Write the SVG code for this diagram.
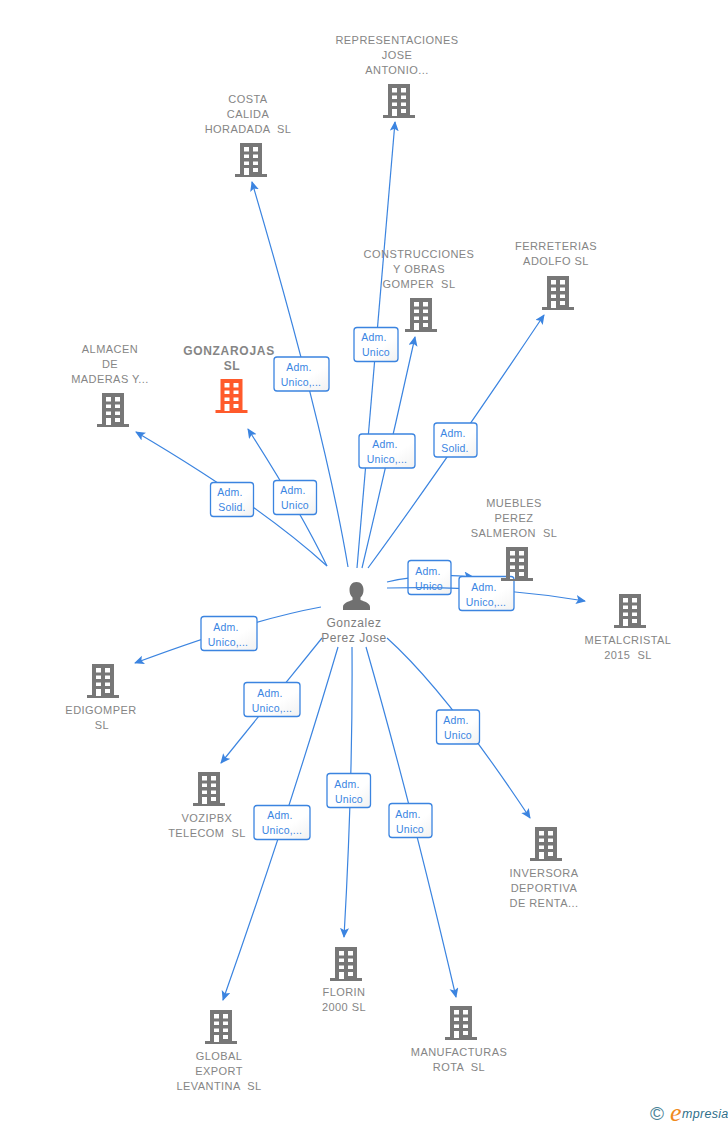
<svg xmlns="http://www.w3.org/2000/svg" width="728" height="1125" viewBox="0 0 728 1125">
<style>
text{font-family:"Liberation Sans",Arial,sans-serif;white-space:pre}
.n{font-size:11px;fill:#858585;text-anchor:middle;letter-spacing:.45px}
.b{font-size:12px;font-weight:bold;fill:#858585;text-anchor:middle;letter-spacing:.7px}
.p{font-size:12px;fill:#7d7d7d;text-anchor:middle;letter-spacing:.55px}
.l{font-size:10.500px;fill:#3a85e2;text-anchor:middle;letter-spacing:.2px}
.c{fill:none;stroke:#3b84e0;stroke-width:1.2}
.a{fill:#3b84e0;stroke:none}
.r{fill:url(#g);stroke:#3b84e0;stroke-width:1.3}
</style>
<defs>
<linearGradient id="g" x1="0" y1="0" x2="1" y2="1"><stop offset="0" stop-color="#fff"/><stop offset=".6" stop-color="#fff"/><stop offset="1" stop-color="#f1f1f1"/></linearGradient>
<marker id="m" markerWidth="12" markerHeight="10" refX="9" refY="4.500" orient="auto" markerUnits="userSpaceOnUse"><path class="a" d="M0 0L10 4.500L0 9L2.200 4.500Z"/></marker>
<symbol id="bld" width="32" height="34" viewBox="0 0 32 34" overflow="visible">
<path fill-rule="evenodd" d="M5 0H27V31H32V34H0V31H5ZM9 4V8.500H14V4ZM18 4V8.500H23V4ZM9 11.500V15H14V11.500ZM18 11.500V15H23V11.500ZM9 18.500V22H14V18.500ZM18 18.500V22H23V18.500ZM9 25V32H14V25ZM18 25V29H23V25Z"/>
</symbol>
</defs>
<g id="connectors">
<path class="c" marker-end="url(#m)" d="M357 568L395 122"/>
<rect class="r" x="354" y="327.500" width="44" height="34" rx="3"/><text class="l" x="374" y="341">Adm.</text><text class="l" x="376" y="356">Unico</text>
<path class="c" marker-end="url(#m)" d="M348 567Q325 430 252 182"/>
<rect class="r" x="274" y="357" width="55" height="34" rx="3"/><text class="l" x="299" y="371">Adm.</text><text class="l" x="301" y="386">Unico,...</text>
<path class="c" marker-end="url(#m)" d="M362 568Q390 450 415 337"/>
<rect class="r" x="359" y="434" width="56" height="34" rx="3"/><text class="l" x="385" y="448">Adm.</text><text class="l" x="387" y="463">Unico,...</text>
<path class="c" marker-end="url(#m)" d="M368 568Q440 470 544 315"/>
<rect class="r" x="434" y="423" width="43" height="34" rx="3"/><text class="l" x="453" y="437">Adm.</text><text class="l" x="455" y="452">Solid.</text>
<path class="c" marker-end="url(#m)" d="M327 566Q300 510 248 429"/>
<rect class="r" x="273.500" y="480.500" width="43" height="34" rx="3"/><text class="l" x="293" y="494">Adm.</text><text class="l" x="295" y="509">Unico</text>
<path class="c" marker-end="url(#m)" d="M327 566Q260 505 136 432"/>
<rect class="r" x="210.500" y="482.500" width="43" height="34" rx="3"/><text class="l" x="230" y="496">Adm.</text><text class="l" x="232" y="511">Solid.</text>
<path class="c" marker-end="url(#m)" d="M387 582Q430 572 473 577"/>
<rect class="r" x="408" y="560.500" width="43" height="34" rx="3"/><text class="l" x="428" y="575">Adm.</text><text class="l" x="429" y="590">Unico</text>
<path class="c" marker-end="url(#m)" d="M387 588Q490 585 585 601"/>
<rect class="r" x="459" y="576.500" width="55" height="34" rx="3"/><text class="l" x="484" y="591">Adm.</text><text class="l" x="486" y="606">Unico,...</text>
<path class="c" marker-end="url(#m)" d="M321 607Q250 620 135 663"/>
<rect class="r" x="201" y="616.500" width="56" height="34" rx="3"/><text class="l" x="226" y="631">Adm.</text><text class="l" x="228" y="646">Unico,...</text>
<path class="c" marker-end="url(#m)" d="M322 638Q280 690 221 763"/>
<rect class="r" x="244" y="682.500" width="56" height="34" rx="3"/><text class="l" x="270" y="697">Adm.</text><text class="l" x="272" y="712">Unico,...</text>
<path class="c" marker-end="url(#m)" d="M338 647Q290 810 223 1000"/>
<rect class="r" x="254" y="805.500" width="56" height="34" rx="3"/><text class="l" x="280" y="819">Adm.</text><text class="l" x="282" y="834">Unico,...</text>
<path class="c" marker-end="url(#m)" d="M352 647Q353 780 344 937"/>
<rect class="r" x="327" y="773.500" width="43.500" height="34" rx="3"/><text class="l" x="347" y="788">Adm.</text><text class="l" x="349" y="803">Unico</text>
<path class="c" marker-end="url(#m)" d="M366 647Q410 800 456 997"/>
<rect class="r" x="389" y="803.500" width="43" height="34" rx="3"/><text class="l" x="408" y="818">Adm.</text><text class="l" x="410" y="833">Unico</text>
<path class="c" marker-end="url(#m)" d="M387 638Q445 690 530 818"/>
<rect class="r" x="436.500" y="710" width="43" height="34" rx="3"/><text class="l" x="456" y="724">Adm.</text><text class="l" x="458" y="739">Unico</text>
</g>
<g id="person">
<path fill="#707070" d="M356.500 582c4.500 0 7 3.500 7 8 0 3-1 5.500-3 7.500v2.500c4 1.500 9.500 3 9.500 7v3h-27v-3c0-4 5.500-5.500 9.500-7v-2.500c-2-2-3-4.500-3-7.500 0-4.500 2.500-8 7-8z"/>
<text class="p" x="354" y="627">Gonzalez</text><text class="p" x="354" y="642">Perez Jose</text>
</g>
<g id="n-representaciones" fill="#777"><use href="#bld" x="383" y="84"/><text class="n" x="397" y="44">REPRESENTACIONES</text><text class="n" x="397" y="59">JOSE</text><text class="n" x="397" y="74">ANTONIO...</text></g>
<g id="n-costa" fill="#777"><use href="#bld" x="235" y="143"/><text class="n" x="248" y="103">COSTA</text><text class="n" x="248" y="118">CALIDA</text><text class="n" x="248" y="133">HORADADA  SL</text></g>
<g id="n-construcciones" fill="#777"><use href="#bld" x="405" y="298"/><text class="n" x="419" y="258">CONSTRUCCIONES</text><text class="n" x="419" y="273">Y OBRAS</text><text class="n" x="419" y="288">GOMPER  SL</text></g>
<g id="n-ferreterias" fill="#777"><use href="#bld" x="542" y="276"/><text class="n" x="556" y="250">FERRETERIAS</text><text class="n" x="556" y="265">ADOLFO SL</text></g>
<g id="n-almacen" fill="#777"><use href="#bld" x="97" y="393"/><text class="n" x="110" y="353">ALMACEN</text><text class="n" x="110" y="368">DE</text><text class="n" x="110" y="383">MADERAS Y...</text></g>
<g id="n-gonzarojas" fill="#ff5a2b"><use href="#bld" x="215.500" y="379"/><text class="b" x="229" y="355">GONZAROJAS</text><text class="b" x="232" y="370">SL</text></g>
<g id="n-muebles" fill="#777"><use href="#bld" x="501" y="547"/><text class="n" x="514" y="507">MUEBLES</text><text class="n" x="514" y="522">PEREZ</text><text class="n" x="514" y="537">SALMERON  SL</text></g>
<g id="n-metalcristal" fill="#777"><use href="#bld" x="614" y="594"/><text class="n" x="628" y="644">METALCRISTAL</text><text class="n" x="628" y="659">2015  SL</text></g>
<g id="n-edigomper" fill="#777"><use href="#bld" x="87" y="664"/><text class="n" x="101" y="714">EDIGOMPER</text><text class="n" x="102" y="729">SL</text></g>
<g id="n-vozipbx" fill="#777"><use href="#bld" x="193" y="772"/><text class="n" x="207" y="822">VOZIPBX</text><text class="n" x="207" y="837">TELECOM  SL</text></g>
<g id="n-inversora" fill="#777"><use href="#bld" x="530" y="827"/><text class="n" x="544" y="877">INVERSORA</text><text class="n" x="544" y="892">DEPORTIVA</text><text class="n" x="544" y="907">DE RENTA...</text></g>
<g id="n-florin" fill="#777"><use href="#bld" x="330" y="947"/><text class="n" x="344" y="996">FLORIN</text><text class="n" x="344" y="1011">2000 SL</text></g>
<g id="n-global" fill="#777"><use href="#bld" x="205" y="1010"/><text class="n" x="219" y="1060">GLOBAL</text><text class="n" x="219" y="1075">EXPORT</text><text class="n" x="219" y="1090">LEVANTINA  SL</text></g>
<g id="n-manufacturas" fill="#777"><use href="#bld" x="445" y="1006"/><text class="n" x="459" y="1056">MANUFACTURAS</text><text class="n" x="459" y="1071">ROTA  SL</text></g>
<g id="logo">
<text x="650" y="1120" style="font-size:19px;fill:#4b8398">©</text>
<text x="670" y="1121" style="font-family:'Liberation Serif',serif;font-style:italic;font-size:26px;fill:#f08a1d">e</text>
<text x="682" y="1118" style="font-style:italic;font-size:12.500px;letter-spacing:.3px;fill:#2f6f8a">mpresia</text>
</g>
</svg>
